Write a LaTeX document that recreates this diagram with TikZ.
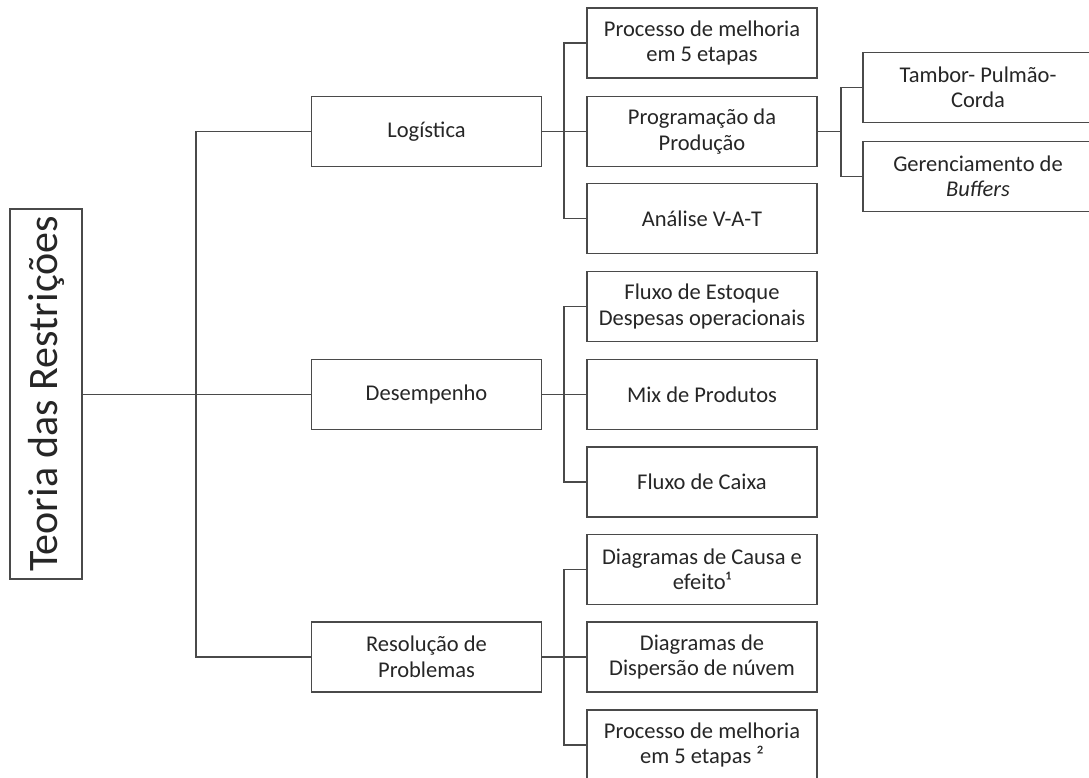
\documentclass[tikz,border=0pt]{standalone}
\usepackage{fontspec}
\setmainfont{Carlito}
\definecolor{linec}{HTML}{4A4A4A}
\definecolor{txtc}{HTML}{262626}
\tikzset{
  box/.style={draw=linec, line width=1.2pt, fill=white, minimum width=230pt,
    minimum height=70pt, align=center, inner sep=0pt, text=txtc,
    font=\fontsize{22.5}{25.5}\selectfont},
  conn/.style={draw=linec, line width=1.3pt}
}
\begin{document}
\begin{tikzpicture}[x=1pt,y=-1pt]
\useasboundingbox (0,0) rectangle (1089,778);
\clip (0,0) rectangle (1089,778);
% root
\node[draw=linec, line width=1.2pt, minimum width=72pt, minimum height=370pt, inner sep=0pt, text=txtc,
  font=\fontsize{42}{46}\selectfont] (root) at (46,394) {\rotatebox{90}{Teoria das Restrições}};
% middle column
\node[box] (log) at (426.5,131.5) {Logística};
\node[box] (des) at (426.5,394.5) {Desempenho};
\node[box] (res) at (426.5,657) {Resolução de\\Problemas};
% right column
\node[box] (a1) at (702,43) {Processo de melhoria\\em 5 etapas};
\node[box] (a2) at (702,131.5) {Programação da\\Produção};
\node[box] (a3) at (702,218.5) {Análise V-A-T};
\node[box] (b1) at (702,306.5) {Fluxo de Estoque\\Despesas operacionais};
\node[box] (b2) at (702,394.5) {Mix de Produtos};
\node[box] (b3) at (702,482) {Fluxo de Caixa};
\node[box] (c1) at (702,569.5) {Diagramas de Causa e\\efeito¹};
\node[box] (c2) at (702,657) {Diagramas de\\Dispersão de núvem};
\node[box] (c3) at (702,745) {Processo de melhoria\\em 5 etapas ²};
% far right
\node[box] (d1) at (978,87.5) {Tambor- Pulmão-\\Corda};
\node[box] (d2) at (978,176.5) {Gerenciamento de\\\textit{Buffers}};
% junctions
\coordinate (j0) at (196,394.5);
\coordinate (ja) at (564,131.5);
\coordinate (jb) at (564,394.5);
\coordinate (jc) at (564,657);
\coordinate (jd) at (841,131.5);
% connectors
\draw[conn] (root.east |- des.west) -- (des.west);
\draw[conn] (log.west) -| (j0) |- (res.west);
\draw[conn] (log.east) -- (a2.west);
\draw[conn] (a1.west) -| (ja) |- (a3.west);
\draw[conn] (des.east) -- (b2.west);
\draw[conn] (b1.west) -| (jb) |- (b3.west);
\draw[conn] (res.east) -- (c2.west);
\draw[conn] (c1.west) -| (jc) |- (c3.west);
\draw[conn] (a2.east) -- (jd);
\draw[conn] (d1.west) -| (jd) |- (d2.west);
\end{tikzpicture}
\end{document}
